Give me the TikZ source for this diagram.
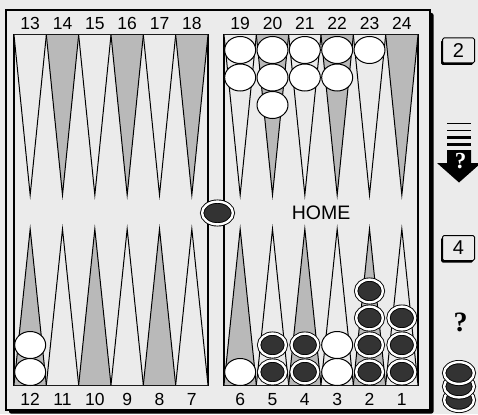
\documentclass[tikz,border=0pt]{standalone}
\usepackage{fontspec}
\setmainfont{Liberation Sans}
\newfontfamily\qfont{Liberation Serif}
\usetikzlibrary{shapes.geometric, shadows}

\definecolor{paper}{gray}{0.92}

\begin{document}
\begin{tikzpicture}[x=1pt, y=-1pt,
    board/.style={draw, line width=1.1pt},
    wpt/.style={draw, line width=1pt, line join=miter, fill=paper},
    dpt/.style={draw, line width=1pt, line join=miter, fill=gray!55},
    num/.style={font=\fontsize{17.5}{19}\selectfont, inner sep=0},
    wchk/.style={ellipse, draw, line width=1pt, fill=white, minimum width=31, minimum height=27, inner sep=0},
    dchk/.style={ellipse, draw, line width=0.9pt, double=white, double distance=2.4pt, fill=black!80, minimum width=26.8, minimum height=22.8, inner sep=0},
    die/.style={draw, line width=1pt, rounded corners=1.5pt, fill=paper, minimum width=32, minimum height=25, inner sep=0, font=\fontsize{20}{22}\selectfont, drop shadow={shadow xshift=-1.5pt, shadow yshift=-2pt, fill=black, opacity=1}}
]
    % Paper
    \fill[paper] (0,0) rectangle (478,414);
    \useasboundingbox (0,0) rectangle (478,414);

    % Outer frame with shadow
    \fill[rounded corners=2pt] (9,13) rectangle (433.5,413.5);
    \draw[line width=1.5pt, fill=paper] (6,10) rectangle (430,410);

    % Board halves
    \draw[board] (14,35) rectangle (208,385);
    \draw[board] (224,35) rectangle (418,385);

    % Points
    \foreach \h in {14,224} {
        \foreach \i/\ts/\bs in {0/wpt/dpt, 1/dpt/wpt, 2/wpt/dpt, 3/dpt/wpt, 4/wpt/dpt, 5/dpt/wpt} {
            \draw[\ts] (\h+\i*32.333,35) -- (\h+\i*32.333+16.17,195) -- (\h+\i*32.333+32.333,35);
            \draw[\bs] (\h+\i*32.333,385) -- (\h+\i*32.333+16.17,229) -- (\h+\i*32.333+32.333,385);
        }
    }

    % Point numbers
    \foreach \i in {0,...,5} {
        \pgfmathtruncatemacro\ta{13+\i}
        \pgfmathtruncatemacro\tb{19+\i}
        \pgfmathtruncatemacro\ba{12-\i}
        \pgfmathtruncatemacro\bb{6-\i}
        \node[num] (n\ta) at (30.17+\i*32.333,23.5) {\ta};
        \node[num] (n\tb) at (240.17+\i*32.333,23.5) {\tb};
        \node[num] (n\ba) at (30.17+\i*32.333,399.5) {\ba};
        \node[num] (n\bb) at (240.17+\i*32.333,399.5) {\bb};
    }

    \node[num, font=\fontsize{19.5}{21}\selectfont] (home) at (321,213) {HOME};

    % White checkers, top
    \foreach \p/\n in {0/2, 1/3, 2/2, 3/2, 4/1}
        \foreach \k in {1,...,\n}
            \node[wchk] (wt\p\k) at (240.17+\p*32.333,50+\k*27.5-27.5) {};

    % White checkers, bottom
    \foreach \x/\n [count=\c] in {30.17/2, 240.17/1, 337.17/2}
        \foreach \k in {1,...,\n}
            \node[wchk] (wb\c\k) at (\x,372-\k*27+27) {};

    % Dark checkers, bottom
    \foreach \p/\n in {1/2, 2/2, 4/4, 5/3}
        \foreach \k in {1,...,\n}
            \node[dchk] (db\p\k) at (240.17+\p*32.333,372-\k*27+27) {};

    % Checker on the bar
    \node[dchk, minimum width=30.8] (bar) at (217.5,213) {};

    % Dice
    \node[die] (die2) at (458.5,50.5) {2};
    \node[die] (die4) at (458.5,248) {4};

    % Arrow icon
    \foreach \y/\w in {123/0.8, 130.5/1.6, 137.5/2.6, 144.5/3.4}
        \draw[line width=\w pt] (447,\y) -- (471,\y);
    \fill (447,150) -- (471,150) -- (471,163) -- (481,163) -- (459,182.5) -- (437,163) -- (447,163) -- cycle;
    \node[text=white, inner sep=0, font=\qfont\bfseries\fontsize{23}{25}\selectfont] (qarrow) at (460.5,161) {?};

    % Question mark
    \node[inner sep=0, font=\qfont\bfseries\fontsize{28}{30}\selectfont] (qmark) at (460.5,322) {?};

    % Stack of checkers
    \foreach \y [count=\k] in {400,386.5,373}
        \node[dchk, minimum width=29.8, minimum height=21.8] (st\k) at (459,\y) {};
\end{tikzpicture}
\end{document}
